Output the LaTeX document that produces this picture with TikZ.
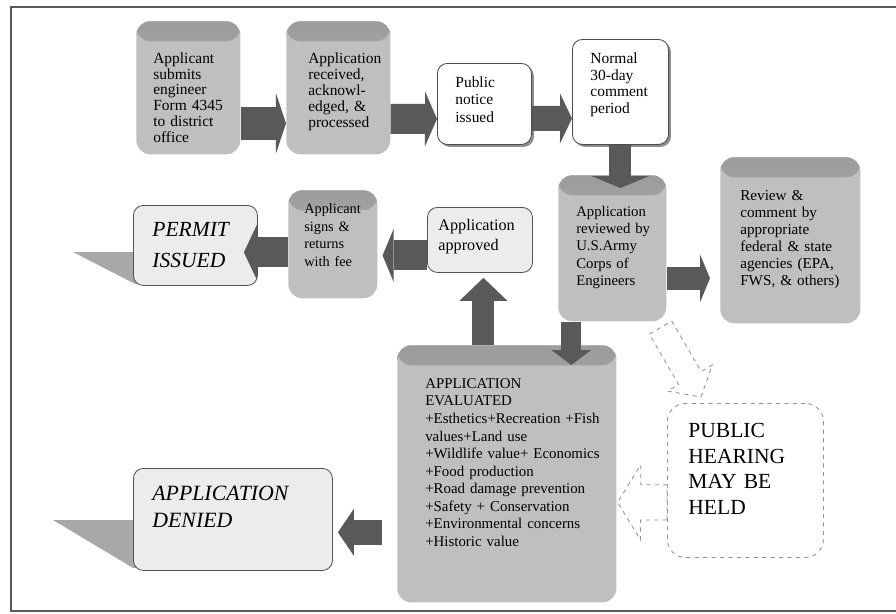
\documentclass[tikz,border=0pt]{standalone}
\usepackage{fontspec}
\setmainfont{Liberation Serif}
\usetikzlibrary{positioning,calc,arrows.meta,shadows,backgrounds}
\hyphenpenalty=10000
\tikzset{GBOX/.style={rectangle,rounded corners=0.35cm,fill=gray!50,anchor=north west,inner ysep=0pt,align=left,
  path picture={\shade[top color=gray!78,bottom color=gray!50] (path picture bounding box.north west) rectangle ([yshift=-0.5cm]path picture bounding box.north east);}}}
\tikzset{WBOX/.style={rectangle,rounded corners=0.25cm,draw=gray!60!black,semithick,fill=white,anchor=north west,inner ysep=0pt,align=left,
  drop shadow={shadow xshift=0.06cm,shadow yshift=-0.06cm,fill=gray!90,opacity=1}}}
\tikzset{LBOX/.style={rectangle,rounded corners=0.25cm,draw=gray!65!black,semithick,fill=gray!15,anchor=north west,inner ysep=0pt,align=left}}
\tikzset{DBOX/.style={rectangle,rounded corners=0.45cm,draw=gray!85,semithick,dashed,anchor=north west,inner ysep=0pt,align=left}}
\tikzset{BARROW/.style={draw=gray!70!black}}
\tikzset{DARROW/.style={draw=gray!85,semithick,dashed,fill=white}}
\tikzset{WEDGE/.style={fill=gray!68}}
\tikzset{FRAME/.style={draw=gray!70!black,line width=0.8pt}}
% outlined block arrow: from, to, half body, half head, head length
\newcommand{\hollowarrow}[5]{%
  \coordinate (c_hb) at ($(#2)!#5!(#1)$);
  \draw[DARROW] ($(#1)!#3!90:(#2)$) -- ($(c_hb)!#3!90:(#2)$) -- ($(c_hb)!#4!90:(#2)$) -- (#2)
    -- ($(c_hb)!#4!-90:(#2)$) -- ($(c_hb)!#3!-90:(#2)$) -- ($(#1)!#3!-90:(#2)$) -- cycle;}

\begin{document}
\begin{tikzpicture}[x=0.025cm,y=-0.025cm]

\useasboundingbox (0,0) rectangle (896,613);
\draw[FRAME] (11,7) rectangle (898,611);

\node[GBOX,text width=1.75cm,inner xsep=0.425cm,text height=1.05cm,text depth=2.275cm,font=\fontsize{11}{11.2}\selectfont] (n_submit) at (136,21) {Applicant\\submits\\engineer\\Form~4345\\to~district\\office};
\node[GBOX,text width=1.5cm,inner xsep=0.55cm,text height=1.05cm,text depth=2.275cm,font=\fontsize{11}{11.5}\selectfont] (n_received) at (286,21) {Application\\received,\\acknowl-\\edged,~\&\\processed};
\node[WBOX,text width=1.45cm,inner xsep=0.45cm,text height=0.6cm,text depth=1.425cm,font=\fontsize{11}{12.4}\selectfont] (n_notice) at (437,63) {Public\\notice\\issued};
\node[WBOX,text width=1.5cm,inner xsep=0.45cm,text height=0.6cm,text depth=2.025cm,font=\fontsize{11}{11.9}\selectfont] (n_normal) at (572,39) {Normal\\30-day\\comment\\period};

\node[GBOX,text width=1.8cm,inner xsep=0.45cm,text height=1.025cm,text depth=2.625cm,font=\fontsize{10.5}{12.3}\selectfont] (n_reviewed) at (558,175) {Application\\reviewed~by\\U.S.Army\\Corps~of\\Engineers};
\node[GBOX,text width=2.5cm,inner xsep=0.5cm,text height=1.075cm,text depth=3.075cm,font=\fontsize{10.8}{12.1}\selectfont] (n_agencies) at (720,157) {Review~\&\\comment~by\\appropriate\\federal~\&~state\\agencies~(EPA,\\FWS,~\&~others)};

\node[LBOX,text width=2.075cm,inner xsep=0.275cm,text height=0.575cm,text depth=1.05cm,font=\fontsize{11.5}{14.5}\selectfont] (n_approved) at (427,207) {Application\\approved};
\node[GBOX,text width=1.425cm,inner xsep=0.4cm,text height=0.575cm,text depth=2.125cm,font=\fontsize{10.2}{12.6}\selectfont] (n_signs) at (288,190) {Applicant\\signs~\&\\returns\\with~fee};
\node[LBOX,text width=2.15cm,inner xsep=0.475cm,text height=0.78cm,text depth=1.22cm,font=\fontsize{15.3}{22}\selectfont\itshape] (n_permit) at (133,205) {PERMIT\\ISSUED};

\node[GBOX,text width=4.075cm,inner xsep=0.7cm,text height=1.075cm,text depth=5.35cm,font=\fontsize{10.6}{12.5}\selectfont] (n_evaluated) at (397,345) {APPLICATION\\EVALUATED\\\mbox{+Esthetics+Recreation +Fish}\\values+Land~use\\+Wildlife~value+~Economics\\+Food~production\\+Road~damage~prevention\\+Safety~+~Conservation\\+Environmental~concerns\\+Historic~value};
\node[LBOX,text width=4.025cm,inner xsep=0.475cm,text height=0.8cm,text depth=1.75cm,font=\fontsize{15.5}{19.2}\selectfont\itshape] (n_denied) at (133,468) {APPLICATION\\DENIED};
\node[DBOX,text width=2.85cm,inner xsep=0.525cm,text height=0.85cm,text depth=3.0cm,font=\fontsize{15.3}{18.3}\selectfont] (n_hearing) at (667,403) {PUBLIC\\HEARING\\MAY~BE\\HELD};

\draw[BARROW,line width=0.825cm,-{Triangle[length=0.25cm,width=1.5cm,line width=0pt]}] ($(n_submit.east)+(0,35.5)$) -- ($(n_received.west)+(0,35.5)$);
\draw[BARROW,line width=0.75cm,-{Triangle[length=0.3cm,width=1.375cm,line width=0pt]}] ($(n_received.east)+(0,31)$) -- ($(n_notice.west)+(0,15)$);
\draw[BARROW,line width=0.625cm,-{Triangle[length=0.3cm,width=1.25cm,line width=0pt]}] ($(n_notice.east)+(0,14.5)$) -- ($(n_normal.west)+(0,26.5)$);
\draw[BARROW,line width=0.55cm,-{Triangle[length=0.3cm,width=1.45cm,line width=0pt]}] (n_normal.south) -- ($(n_normal.south |- n_reviewed.north)+(0,13)$);
\draw[BARROW,line width=0.575cm,-{Triangle[length=0.25cm,width=1.2cm,line width=0pt]}] ($(n_reviewed.east)+(0,30)$) -- ($(n_reviewed.east -| n_agencies.west)+(-10,30)$);
\draw[BARROW,line width=0.75cm,-{Triangle[length=0.275cm,width=1.325cm,line width=0pt]}] ($(n_approved.west)+(0,15.5)$) -- ($(n_approved.west -| n_signs.east)+(5,15.5)$);
\draw[BARROW,line width=0.75cm,-{Triangle[length=0.325cm,width=1.375cm,line width=0pt]}] ($(n_signs.west)+(0,8)$) -- ($(n_signs.west -| n_permit.east)+(-14,8)$);
\draw[BARROW,line width=0.55cm,-{Triangle[length=0.575cm,width=1.2cm,line width=0pt]}] ($(n_approved.south |- n_evaluated.north)+(3.5,0)$) -- ($(n_approved.south)+(3.5,5)$);
\draw[BARROW,line width=0.5cm,-{Triangle[length=0.375cm,width=1.0cm,line width=0pt]}] ($(n_reviewed.south)+(-41,0)$) -- ($(n_reviewed.south |- n_evaluated.north)+(-41,20)$);
\draw[BARROW,line width=0.625cm,-{Triangle[length=0.4cm,width=1.175cm,line width=0pt]}] ($(n_evaluated.west)+(-15,58.5)$) -- ($(n_evaluated.west -| n_denied.east)+(5,58.5)$);

\coordinate (c_d1_0) at ($(n_reviewed.south east)+(-6,6)$);
\coordinate (c_d1_1) at ($(n_hearing.north west)+(34,-6)$);
\hollowarrow{c_d1_0}{c_d1_1}{0.325cm}{0.65cm}{0.55cm}
\coordinate (c_d2_0) at ($(n_hearing.west)+(0,22)$);
\coordinate (c_d2_1) at ($(n_evaluated.east)+(1,28.5)$);
\hollowarrow{c_d2_0}{c_d2_1}{0.44cm}{0.94cm}{0.575cm}

\begin{scope}[on background layer]
\fill[WEDGE] ($(n_permit.north west)+(-60,47)$) -- ($(n_permit.north west)+(20,47)$) -- ($(n_permit.south west)+(20,-2)$) -- ($(n_permit.south west)+(2,-2)$) -- cycle;
\fill[WEDGE] ($(n_denied.north west)+(-80,52)$) -- ($(n_denied.north west)+(20,52)$) -- ($(n_denied.south west)+(20,-3)$) -- ($(n_denied.south west)+(0,-3)$) -- cycle;
\end{scope}

\end{tikzpicture}
\end{document}
